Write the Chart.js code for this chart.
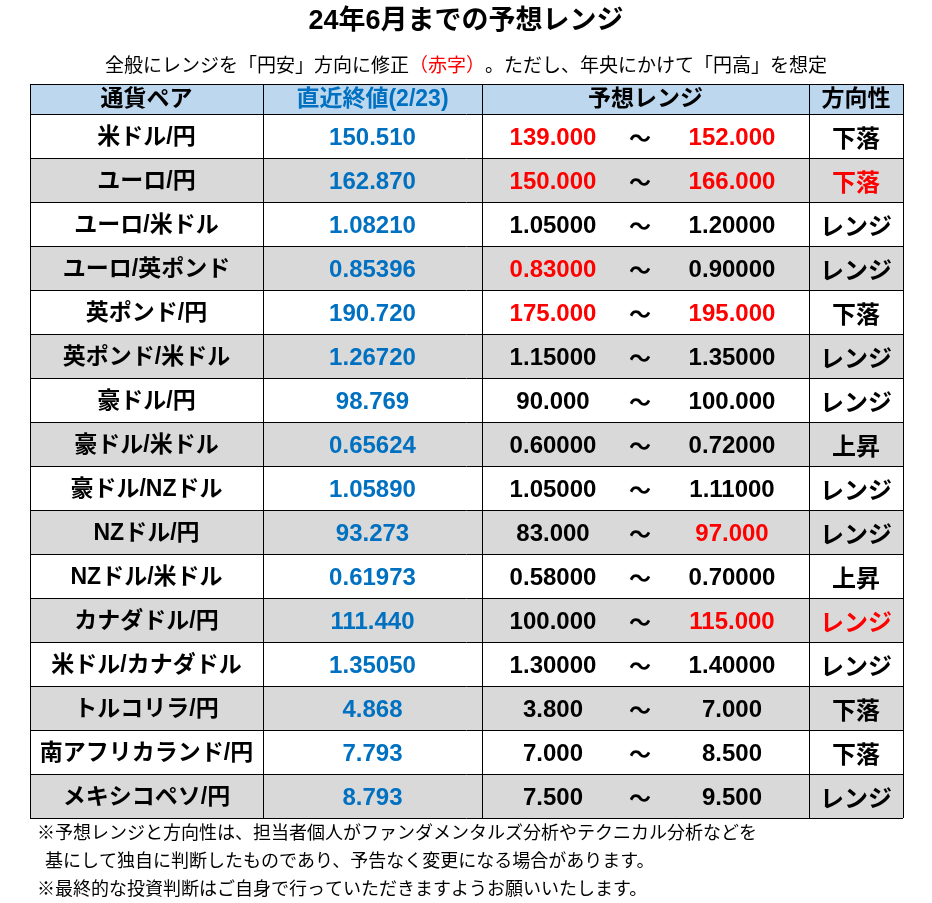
<!DOCTYPE html>
<html>
<head>
<meta charset="utf-8">
<script src="https://cdn.jsdelivr.net/npm/chart.js@4"></script>
<style>
  html, body { margin: 0; padding: 0; background: #ffffff; }
  canvas { display: block; }
</style>
</head>
<body>
<canvas id="rangeTable" width="932" height="903"></canvas>
<script>
// Table contents
const titleText = '24年6月までの予想レンジ';
const subtitleParts = ['全般にレンジを「円安」方向に修正', '（赤字）', '。ただし、年央にかけて「円高」を想定'];
const headers = ['通貨ペア', '直近終値(2/23)', '予想レンジ', '方向性'];
const pairs = ['米ドル/円', 'ユーロ/円', 'ユーロ/米ドル', 'ユーロ/英ポンド', '英ポンド/円', '英ポンド/米ドル',
    '豪ドル/円', '豪ドル/米ドル', '豪ドル/NZドル', 'NZドル/円', 'NZドル/米ドル', 'カナダドル/円',
    '米ドル/カナダドル', 'トルコリラ/円', '南アフリカランド/円', 'メキシコペソ/円'];
const latest = ['150.510', '162.870', '1.08210', '0.85396', '190.720', '1.26720', '98.769', '0.65624',
    '1.05890', '93.273', '0.61973', '111.440', '1.35050', '4.868', '7.793', '8.793'];
const rangeLow = ['139.000', '150.000', '1.05000', '0.83000', '175.000', '1.15000', '90.000', '0.60000',
    '1.05000', '83.000', '0.58000', '100.000', '1.30000', '3.800', '7.000', '7.500'];
const rangeHigh = ['152.000', '166.000', '1.20000', '0.90000', '195.000', '1.35000', '100.000', '0.72000',
    '1.11000', '97.000', '0.70000', '115.000', '1.40000', '7.000', '8.500', '9.500'];
const direction = ['下落', '下落', 'レンジ', 'レンジ', '下落', 'レンジ', 'レンジ', '上昇', 'レンジ', 'レンジ',
    '上昇', 'レンジ', 'レンジ', '下落', '下落', 'レンジ'];
// rows whose figures were revised (shown in red)
const lowRevised = [0, 1, 3, 4];
const highRevised = [0, 1, 4, 9, 11];
const directionRevised = [1, 11];
const footnotes = [
    '※予想レンジと方向性は、担当者個人がファンダメンタルズ分析やテクニカル分析などを',
    '基にして独自に判断したものであり、予告なく変更になる場合があります。',
    '※最終的な投資判断はご自身で行っていただきますようお願いいたします。'
];

// Layout (x units along the table width)
const TABLE_W = 873;
const colEdges = [0, 233, 452, 779, 873];
const lowX = 523, tildeX = 610, highX = 702;
const HEADER_H = 30;

const BLACK = '#000000';
const BLUE = '#0070C0';
const RED = '#FF0000';
const GRAY = '#D9D9D9';
const HEADER_BG = '#BDD7EE';
const JP = '"Noto Sans CJK JP", sans-serif';
const NUM = '"Liberation Sans", "Noto Sans CJK JP", sans-serif';

function drawText(ctx, text, x, y, font, color, align) {
    ctx.font = font;
    ctx.fillStyle = color;
    ctx.textAlign = align || 'center';
    ctx.textBaseline = 'middle';
    ctx.fillText(text, x, y);
}

const tablePlugin = {
    id: 'tableText',
    afterDraw(chart) {
        const ctx = chart.ctx;
        const xs = chart.scales.x;
        const ys = chart.scales.y;
        const top = chart.chartArea.top;
        const px = v => xs.getPixelForValue(v);
        const mid = (a, b) => (px(a) + px(b)) / 2;

        ctx.save();

        // title + subtitle
        drawText(ctx, titleText, 466, 22, 'bold 27px ' + NUM, BLACK);
        ctx.font = '19px ' + JP;
        const widths = subtitleParts.map(p => ctx.measureText(p).width);
        let sx = 466 - widths.reduce((a, b) => a + b, 0) / 2;
        subtitleParts.forEach((p, i) => {
            drawText(ctx, p, sx, 65, '19px ' + JP, i === 1 ? RED : BLACK, 'left');
            sx += widths[i];
        });

        // header row
        const hTop = top - HEADER_H;
        ctx.fillStyle = HEADER_BG;
        ctx.fillRect(px(0), hTop, px(TABLE_W) - px(0), HEADER_H);
        ctx.strokeStyle = BLACK;
        ctx.lineWidth = 1;
        ctx.beginPath();
        ctx.moveTo(px(0), hTop + 0.5);
        ctx.lineTo(px(TABLE_W) + 1, hTop + 0.5);
        colEdges.forEach(e => {
            const x = Math.round(px(e)) + 0.5;
            ctx.moveTo(x, hTop);
            ctx.lineTo(x, top);
        });
        ctx.stroke();
        const hy = hTop + HEADER_H / 2 + 1;
        drawText(ctx, headers[0], mid(colEdges[0], colEdges[1]), hy, 'bold 23px ' + NUM, BLACK);
        drawText(ctx, headers[1], mid(colEdges[1], colEdges[2]), hy, 'bold 23px ' + NUM, BLUE);
        drawText(ctx, headers[2], mid(colEdges[2], colEdges[3]), hy, 'bold 23px ' + NUM, BLACK);
        drawText(ctx, headers[3], mid(colEdges[3], colEdges[4]), hy, 'bold 23px ' + NUM, BLACK);

        // body rows
        pairs.forEach((pair, i) => {
            const y = ys.getPixelForValue(i) + 2;
            drawText(ctx, pair, mid(colEdges[0], colEdges[1]), y, 'bold 23px ' + NUM, BLACK);
            drawText(ctx, latest[i], mid(colEdges[1], colEdges[2]), y, 'bold 24px ' + NUM, BLUE);
            drawText(ctx, rangeLow[i], px(lowX), y, 'bold 24px ' + NUM,
                lowRevised.includes(i) ? RED : BLACK);
            drawText(ctx, '～', px(tildeX), y, 'bold 22px ' + JP, BLACK);
            drawText(ctx, rangeHigh[i], px(highX), y, 'bold 24px ' + NUM,
                highRevised.includes(i) ? RED : BLACK);
            drawText(ctx, direction[i], mid(colEdges[3], colEdges[4]), y, 'bold 24px ' + JP,
                directionRevised.includes(i) ? RED : BLACK);
        });

        // footnotes
        drawText(ctx, footnotes[0], 37, 832, '18px ' + JP, BLACK, 'left');
        drawText(ctx, footnotes[1], 45, 860, '18px ' + JP, BLACK, 'left');
        drawText(ctx, footnotes[2], 37, 888, '18px ' + JP, BLACK, 'left');

        ctx.restore();
    }
};

new Chart(document.getElementById('rangeTable'), {
    type: 'bar',
    data: {
        labels: pairs,
        datasets: [{
            data: pairs.map(() => [0, TABLE_W]),
            backgroundColor: pairs.map((_, i) => i % 2 ? GRAY : '#FFFFFF'),
            borderWidth: 0,
            inflateAmount: 0,
            barPercentage: 1,
            categoryPercentage: 1
        }]
    },
    options: {
        indexAxis: 'y',
        responsive: false,
        animation: false,
        layout: { padding: { left: 30, right: 29, top: 114, bottom: 85 } },
        plugins: {
            legend: { display: false },
            tooltip: { enabled: false }
        },
        scales: {
            x: {
                type: 'linear',
                min: 0,
                max: TABLE_W,
                afterBuildTicks: axis => { axis.ticks = colEdges.map(v => ({ value: v })); },
                grid: { color: BLACK, lineWidth: 1, drawTicks: false, z: 1 },
                ticks: { display: false },
                border: { display: false }
            },
            y: {
                grid: { color: BLACK, lineWidth: 1, drawTicks: false, offset: true, z: 1 },
                ticks: { display: false },
                border: { display: false }
            }
        }
    },
    plugins: [tablePlugin]
});
</script>
</body>
</html>
